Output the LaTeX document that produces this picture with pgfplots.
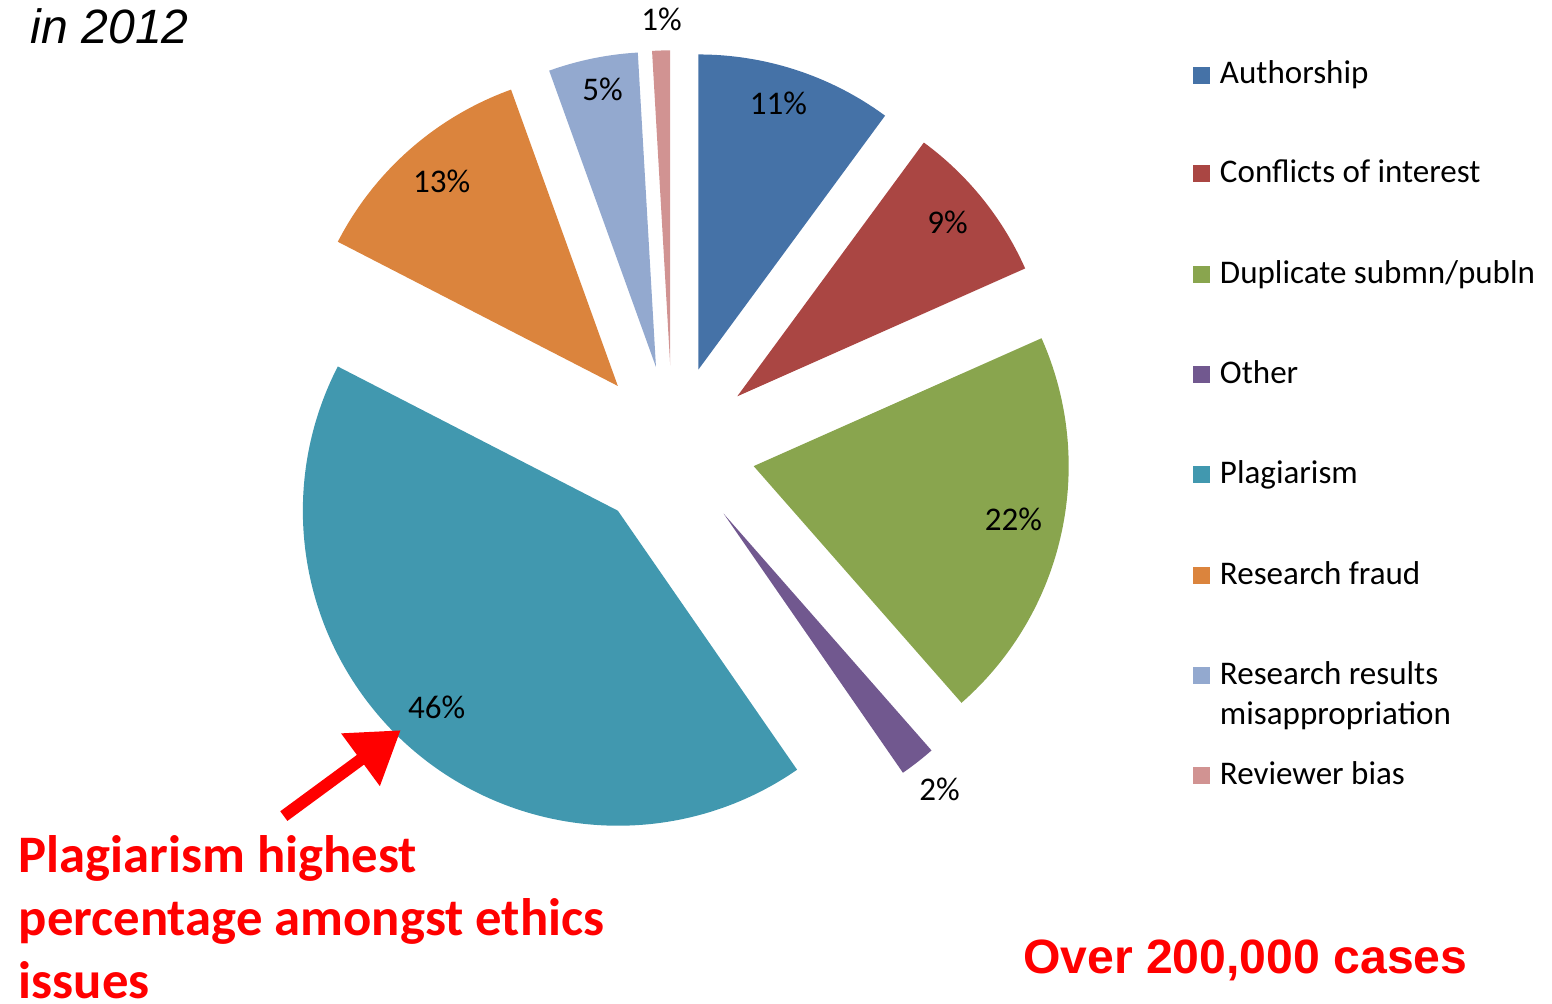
\documentclass[border=0pt]{standalone}
\usepackage{pgfplots}
\pgfplotsset{compat=1.18}
\usetikzlibrary{arrows.meta}
\usepackage{fontspec}
\setmainfont{Carlito}
\newfontfamily\arial{Liberation Sans}
\definecolor{cA}{HTML}{4572A7}
\definecolor{cB}{HTML}{AA4643}
\definecolor{cC}{HTML}{89A54E}
\definecolor{cD}{HTML}{71588F}
\definecolor{cE}{HTML}{4198AF}
\definecolor{cF}{HTML}{DB843D}
\definecolor{cG}{HTML}{93A9CF}
\definecolor{cH}{HTML}{D19392}
\newcommand\lab{\fontsize{9.4}{11}\selectfont}
\begin{document}
\begin{tikzpicture}
\useasboundingbox (0,0) rectangle (15.52,10.04);
\clip (0,0) rectangle (15.52,10.04);
\begin{axis}[hide axis, x=0.01cm, y=0.01cm, xmin=0, xmax=1552, ymin=0, ymax=1004,
  scale only axis, clip=false, at={(0,0)}, anchor=south west]
\pgfplotsextra{
  \gdef\cum{0}
  \foreach \v/\c/\lx/\ly in {11/cA/779/103, 9/cB/948/222, 22/cC/1014/519, 2/cD/940/789,
                             46/cE/437/707, 13/cF/442/181, 5/cG/603/89, 1/cH/662/19}{
    \pgfmathsetmacro\s{\cum/109*360}
    \pgfmathsetmacro\e{(\cum+\v)/109*360}
    \pgfmathsetmacro\ts{90-\s}
    \pgfmathsetmacro\te{90-\e}
    \pgfmathsetmacro\tm{90-(\s+\e)/2}
    \pgfmathsetmacro\yy{1004-\ly}
    \fill[\c] ([shift={(\tm:0.83cm)}]axis cs:673,556) -- ++(\ts:3.15cm)
       arc[start angle=\ts, end angle=\te, radius=3.15cm] -- cycle;
    \node[font=\lab, text=black] at (axis cs:\lx,\yy) {\v\%};
    \pgfmathsetmacro\n{\cum+\v}
    \xdef\cum{\n}
  }
  % legend
  \foreach \c/\t/\y in {cA/Authorship/83, cB/Conflicts of interest/182, cC/Duplicate submn\slash publn/283,
                        cD/Other/383, cE/Plagiarism/483, cF/Research fraud/584,
                        cG/Research results/684, cH/Reviewer bias/784}{
    \pgfmathsetmacro\yb{1004-\y}
    \pgfmathsetmacro\yt{1004-\y+17}
    \fill[\c] (axis cs:1194,\yb) rectangle (axis cs:1211,\yt);
    \node[font=\lab, anchor=base west, inner sep=0pt] at (axis cs:1220,\yb) {\t};
  }
  \node[font=\lab, anchor=base west, inner sep=0pt] at (axis cs:1220,{1004-724}) {misappropriation};
  % annotations
  \node[font=\arial\itshape\fontsize{13.7}{16}\selectfont, anchor=base west, inner sep=0pt]
    at (axis cs:30,{1004-43}) {in 2012};
  \node[font=\bfseries\fontsize{15}{18}\selectfont, text=red, anchor=base west, inner sep=0pt]
    at (axis cs:18,{1004-872}) {Plagiarism highest};
  \node[font=\bfseries\fontsize{15}{18}\selectfont, text=red, anchor=base west, inner sep=0pt]
    at (axis cs:18,{1004-935}) {percentage amongst ethics};
  \node[font=\bfseries\fontsize{15}{18}\selectfont, text=red, anchor=base west, inner sep=0pt]
    at (axis cs:18,{1004-998}) {issues};
  \node[font=\arial\bfseries\fontsize{13.7}{16}\selectfont, text=red, anchor=base west, inner sep=0pt]
    at (axis cs:1023,{1004-973}) {Over 200,000 cases};
  \draw[red, line width=0.12cm, -{Triangle[length=0.5cm,width=0.62cm]}]
    (axis cs:284,{1004-816}) -- (axis cs:401,{1004-730});
}
\end{axis}
\end{tikzpicture}
\end{document}
